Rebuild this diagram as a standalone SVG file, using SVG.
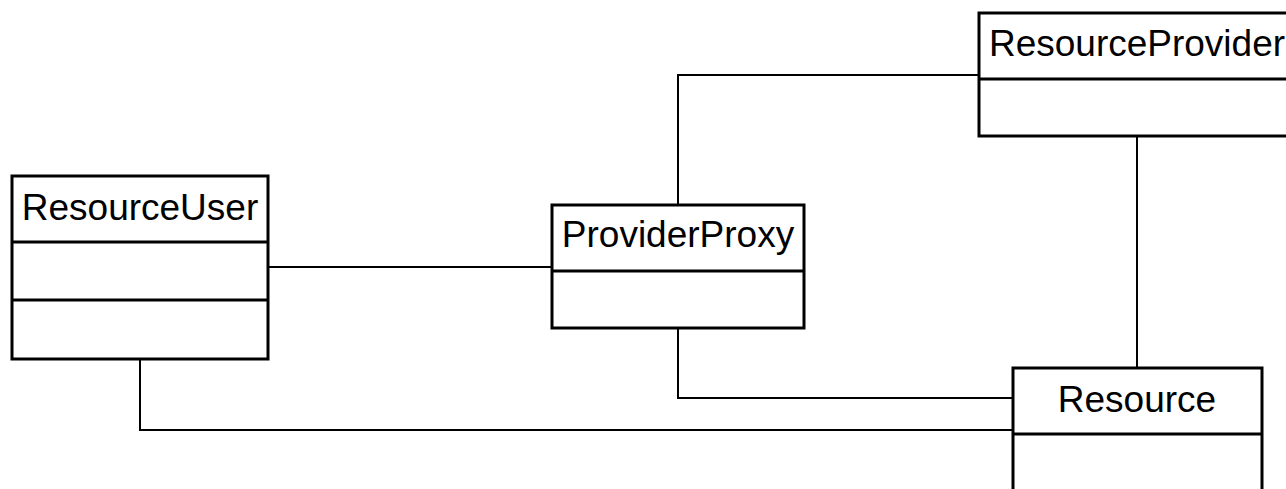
<svg xmlns="http://www.w3.org/2000/svg" width="1286" height="489" viewBox="0 0 1286 489">
<style>
.box{fill:#fff;stroke:#000;stroke-width:3}
.div{stroke:#000;stroke-width:3}
.conn{fill:none;stroke:#000;stroke-width:2}
.lbl{font-family:"Liberation Sans",Arial,sans-serif;font-size:37px;fill:#000;text-anchor:middle}
</style>
<rect width="1286" height="489" fill="#fff"/>
<g id="connectors">
<polyline class="conn" points="268,267 552,267"/>
<polyline class="conn" points="678,205 678,75 979,75"/>
<polyline class="conn" points="1137,136 1137,368"/>
<polyline class="conn" points="678,328 678,398 1013,398"/>
<polyline class="conn" points="140,359 140,430 1013,430"/>
</g>
<g id="ResourceUser">
<rect class="box" x="12" y="176" width="256" height="183"/>
<line class="div" x1="12" y1="242" x2="268" y2="242"/>
<line class="div" x1="12" y1="300" x2="268" y2="300"/>
<text class="lbl" x="140" y="220">ResourceUser</text>
</g>
<g id="ProviderProxy">
<rect class="box" x="552" y="205" width="252" height="123"/>
<line class="div" x1="552" y1="271" x2="804" y2="271"/>
<text class="lbl" x="678" y="247">ProviderProxy</text>
</g>
<g id="ResourceProvider">
<rect class="box" x="979" y="13" width="316" height="123"/>
<line class="div" x1="979" y1="79" x2="1295" y2="79"/>
<text class="lbl" x="1137" y="56">ResourceProvider</text>
</g>
<g id="Resource">
<rect class="box" x="1013" y="368" width="249" height="140"/>
<line class="div" x1="1013" y1="434" x2="1262" y2="434"/>
<text class="lbl" x="1137" y="412">Resource</text>
</g>
</svg>
